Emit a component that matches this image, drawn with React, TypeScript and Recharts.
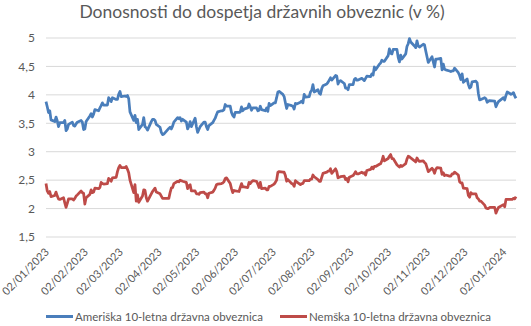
import React from 'react';
import { LineChart, Line, XAxis, YAxis, CartesianGrid } from 'recharts';

// trading days per month, yields in %
const months = [
  '2023-01', '2023-02', '2023-03', '2023-04', '2023-05', '2023-06', '2023-07',
  '2023-08', '2023-09', '2023-10', '2023-11', '2023-12', '2024-01',
];

const tradingDays: number[][] = [
  [2, 3, 4, 5, 6, 9, 10, 11, 12, 13, 16, 17, 18, 19, 20, 23, 24, 25, 26, 27, 30, 31],
  [1, 2, 3, 6, 7, 8, 9, 10, 13, 14, 15, 16, 17, 20, 21, 22, 23, 24, 27, 28],
  [1, 2, 3, 6, 7, 8, 9, 10, 13, 14, 15, 16, 17, 20, 21, 22, 23, 24, 27, 28, 29, 30, 31],
  [3, 4, 5, 6, 10, 11, 12, 13, 14, 17, 18, 19, 20, 21, 24, 25, 26, 27, 28],
  [1, 2, 3, 4, 5, 8, 9, 10, 11, 12, 15, 16, 17, 18, 19, 22, 23, 24, 25, 26, 29, 30, 31],
  [1, 2, 5, 6, 7, 8, 9, 12, 13, 14, 15, 16, 19, 20, 21, 22, 23, 26, 27, 28, 29, 30],
  [3, 4, 5, 6, 7, 10, 11, 12, 13, 14, 17, 18, 19, 20, 21, 24, 25, 26, 27, 28, 31],
  [1, 2, 3, 4, 7, 8, 9, 10, 11, 14, 15, 16, 17, 18, 21, 22, 23, 24, 25, 28, 29, 30, 31],
  [1, 4, 5, 6, 7, 8, 11, 12, 13, 14, 15, 18, 19, 20, 21, 22, 25, 26, 27, 28, 29],
  [2, 3, 4, 5, 6, 9, 10, 11, 12, 13, 16, 17, 18, 19, 20, 23, 24, 25, 26, 27, 30, 31],
  [1, 2, 3, 6, 7, 8, 9, 10, 13, 14, 15, 16, 17, 20, 21, 22, 23, 24, 27, 28, 29, 30],
  [1, 4, 5, 6, 7, 8, 11, 12, 13, 14, 15, 18, 19, 20, 21, 22, 26, 27, 28, 29],
  [2, 3, 4, 5, 8, 9, 10, 11, 12],
];

const usYields: number[][] = [
  [3.88, 3.79, 3.69, 3.72, 3.56, 3.53, 3.61, 3.54, 3.44, 3.51, 3.51, 3.55, 3.37, 3.40, 3.48, 3.52, 3.46, 3.45, 3.49, 3.52, 3.55, 3.52],
  [3.39, 3.40, 3.53, 3.63, 3.67, 3.61, 3.66, 3.74, 3.72, 3.77, 3.81, 3.86, 3.82, 3.82, 3.95, 3.92, 3.88, 3.95, 3.92, 3.92],
  [4.01, 4.06, 3.97, 3.98, 3.97, 3.99, 3.93, 3.70, 3.55, 3.64, 3.51, 3.57, 3.39, 3.48, 3.60, 3.44, 3.42, 3.38, 3.53, 3.57, 3.57, 3.55, 3.48],
  [3.43, 3.34, 3.30, 3.31, 3.41, 3.43, 3.40, 3.45, 3.52, 3.60, 3.58, 3.60, 3.54, 3.57, 3.52, 3.40, 3.45, 3.53, 3.44],
  [3.59, 3.44, 3.34, 3.39, 3.44, 3.52, 3.52, 3.44, 3.39, 3.46, 3.51, 3.55, 3.59, 3.65, 3.70, 3.72, 3.72, 3.74, 3.83, 3.80, 3.80, 3.69, 3.64],
  [3.61, 3.69, 3.69, 3.70, 3.79, 3.72, 3.75, 3.77, 3.84, 3.79, 3.73, 3.77, 3.77, 3.72, 3.73, 3.80, 3.74, 3.72, 3.77, 3.71, 3.85, 3.81],
  [3.86, 3.86, 3.95, 4.05, 4.06, 4.01, 3.97, 3.86, 3.76, 3.83, 3.81, 3.80, 3.75, 3.85, 3.84, 3.87, 3.89, 3.86, 4.01, 3.96, 3.97],
  [4.05, 4.08, 4.18, 4.05, 4.09, 4.03, 4.01, 4.11, 4.16, 4.19, 4.22, 4.26, 4.30, 4.26, 4.34, 4.33, 4.19, 4.24, 4.25, 4.20, 4.12, 4.12, 4.09],
  [4.18, 4.18, 4.27, 4.29, 4.26, 4.26, 4.29, 4.27, 4.25, 4.29, 4.33, 4.32, 4.37, 4.35, 4.49, 4.44, 4.54, 4.56, 4.61, 4.59, 4.59],
  [4.69, 4.81, 4.73, 4.72, 4.80, 4.80, 4.66, 4.58, 4.70, 4.63, 4.72, 4.85, 4.90, 4.99, 4.93, 4.86, 4.83, 4.95, 4.86, 4.84, 4.89, 4.88],
  [4.77, 4.67, 4.57, 4.67, 4.58, 4.49, 4.63, 4.63, 4.64, 4.44, 4.54, 4.45, 4.44, 4.42, 4.41, 4.42, 4.42, 4.47, 4.39, 4.34, 4.27, 4.37],
  [4.22, 4.28, 4.18, 4.12, 4.14, 4.23, 4.24, 4.21, 4.02, 3.91, 3.92, 3.95, 3.93, 3.87, 3.89, 3.90, 3.89, 3.79, 3.84, 3.88],
  [3.95, 3.91, 3.99, 4.05, 4.01, 4.02, 4.04, 3.98, 3.94],
];

const deYields: number[][] = [
  [2.44, 2.31, 2.27, 2.30, 2.21, 2.23, 2.29, 2.22, 2.17, 2.16, 2.19, 2.10, 2.02, 2.09, 2.17, 2.17, 2.15, 2.18, 2.22, 2.24, 2.31, 2.28],
  [2.27, 2.08, 2.19, 2.25, 2.33, 2.28, 2.29, 2.36, 2.35, 2.37, 2.46, 2.44, 2.43, 2.44, 2.53, 2.51, 2.48, 2.54, 2.55, 2.65],
  [2.72, 2.76, 2.72, 2.72, 2.74, 2.69, 2.63, 2.50, 2.28, 2.42, 2.13, 2.24, 2.11, 2.22, 2.33, 2.32, 2.19, 2.13, 2.26, 2.30, 2.33, 2.36, 2.29],
  [2.26, 2.22, 2.18, 2.18, 2.18, 2.28, 2.36, 2.37, 2.44, 2.48, 2.47, 2.50, 2.49, 2.48, 2.46, 2.35, 2.40, 2.42, 2.31],
  [2.31, 2.26, 2.26, 2.25, 2.28, 2.29, 2.26, 2.26, 2.19, 2.27, 2.29, 2.32, 2.36, 2.42, 2.43, 2.44, 2.45, 2.47, 2.53, 2.54, 2.44, 2.35, 2.28],
  [2.32, 2.31, 2.30, 2.37, 2.44, 2.38, 2.38, 2.37, 2.46, 2.44, 2.47, 2.49, 2.48, 2.43, 2.37, 2.46, 2.35, 2.36, 2.33, 2.33, 2.39, 2.39],
  [2.43, 2.46, 2.50, 2.64, 2.65, 2.64, 2.64, 2.58, 2.48, 2.51, 2.44, 2.43, 2.39, 2.49, 2.47, 2.42, 2.44, 2.44, 2.49, 2.49, 2.49],
  [2.52, 2.52, 2.59, 2.56, 2.51, 2.48, 2.48, 2.55, 2.62, 2.64, 2.66, 2.66, 2.70, 2.62, 2.70, 2.65, 2.54, 2.55, 2.56, 2.57, 2.51, 2.53, 2.47],
  [2.55, 2.58, 2.61, 2.65, 2.61, 2.61, 2.64, 2.62, 2.63, 2.59, 2.67, 2.69, 2.73, 2.70, 2.74, 2.74, 2.78, 2.79, 2.84, 2.92, 2.84],
  [2.88, 2.92, 2.95, 2.88, 2.88, 2.77, 2.75, 2.73, 2.76, 2.74, 2.79, 2.87, 2.92, 2.91, 2.89, 2.84, 2.82, 2.89, 2.85, 2.83, 2.84, 2.81],
  [2.79, 2.72, 2.65, 2.71, 2.68, 2.62, 2.69, 2.72, 2.71, 2.60, 2.63, 2.58, 2.59, 2.57, 2.57, 2.61, 2.61, 2.64, 2.59, 2.47, 2.45, 2.45],
  [2.36, 2.35, 2.23, 2.20, 2.28, 2.26, 2.26, 2.19, 2.17, 2.13, 2.13, 2.06, 2.01, 2.00, 2.00, 2.02, 2.02, 1.92, 1.97, 2.02],
  [2.07, 2.03, 2.16, 2.16, 2.16, 2.16, 2.18, 2.17, 2.21],
];

const xTicks = [
  '2023-01-02', '2023-02-02', '2023-03-02', '2023-04-02', '2023-05-02', '2023-06-02', '2023-07-02',
  '2023-08-02', '2023-09-02', '2023-10-02', '2023-11-02', '2023-12-02', '2024-01-02',
];
const yTicks = [1.5, 2, 2.5, 3, 3.5, 4, 4.5, 5];

const toTime = (s: string) => Date.parse(s + 'T00:00:00Z');

const data = months.flatMap((m, i) =>
  tradingDays[i].map((d, j) => ({
    t: toTime(`${m}-${String(d).padStart(2, '0')}`),
    us: usYields[i][j],
    de: deYields[i][j],
  }))
);

const FONT = 'Lato, "Open Sans", sans-serif';
const TEXT = '#595959';
const BLUE = '#4A7EBB';
const RED = '#BE4B48';

const pad = (n: number) => String(n).padStart(2, '0');

const DateTick = ({ x, y, payload }: any) => {
  const d = new Date(payload.value);
  const label = `${pad(d.getUTCDate())}/${pad(d.getUTCMonth() + 1)}/${d.getUTCFullYear()}`;
  return (
    <g transform={`translate(${x + 1},${y + 7})`}>
      <text transform="rotate(-45)" textAnchor="end" dy={4} fill={TEXT} fontSize={11} fontFamily={FONT}>
        {label}
      </text>
    </g>
  );
};

const LegendItem = ({ color, label, left }: { color: string; label: string; left: number }) => (
  <div style={{ position: 'absolute', left, top: 309, display: 'flex', alignItems: 'center' }}>
    <div style={{ width: 27, height: 3, background: color }} />
    <span style={{ marginLeft: 2, fontSize: 11.5, color: TEXT, fontFamily: FONT, lineHeight: '15px' }}>{label}</span>
  </div>
);

export default function App() {
  return (
    <div style={{ position: 'absolute', left: 0, top: 0, width: 531, height: 326, background: '#fff' }}>
      <div
        style={{
          position: 'absolute', left: 0, top: 0, width: 524, textAlign: 'center',
          fontFamily: FONT, fontSize: 17.5, color: TEXT, lineHeight: '24px',
        }}
      >
        Donosnosti do dospetja državnih obveznic (v %)
      </div>
      <LineChart width={531} height={326} data={data} margin={{ top: 38, right: 15, bottom: 0, left: 0 }}>
        <CartesianGrid vertical={false} stroke="#D9D9D9" />
        <XAxis
          dataKey="t"
          type="number"
          domain={[data[0].t, data[data.length - 1].t]}
          ticks={xTicks.map(toTime)}
          tick={<DateTick />}
          height={89}
          axisLine={false}
          tickLine={false}
          tickMargin={0}
          interval={0}
        />
        <YAxis
          domain={[1.5, 5]}
          ticks={yTicks}
          width={46}
          axisLine={false}
          tickLine={false}
          tickMargin={5}
          tickFormatter={(v: number) => String(v).replace('.', ',')}
          tick={{ fill: TEXT, fontSize: 12, fontFamily: FONT }}
        />
        <Line type="linear" dataKey="us" stroke={BLUE} strokeWidth={2.75} dot={false} isAnimationActive={false} strokeLinejoin="round" />
        <Line type="linear" dataKey="de" stroke={RED} strokeWidth={2.75} dot={false} isAnimationActive={false} strokeLinejoin="round" />
      </LineChart>
      <LegendItem color={BLUE} label="Ameriška 10-letna državna obveznica" left={46} />
      <LegendItem color={RED} label="Nemška 10-letna državna obveznica" left={280} />
    </div>
  );
}
